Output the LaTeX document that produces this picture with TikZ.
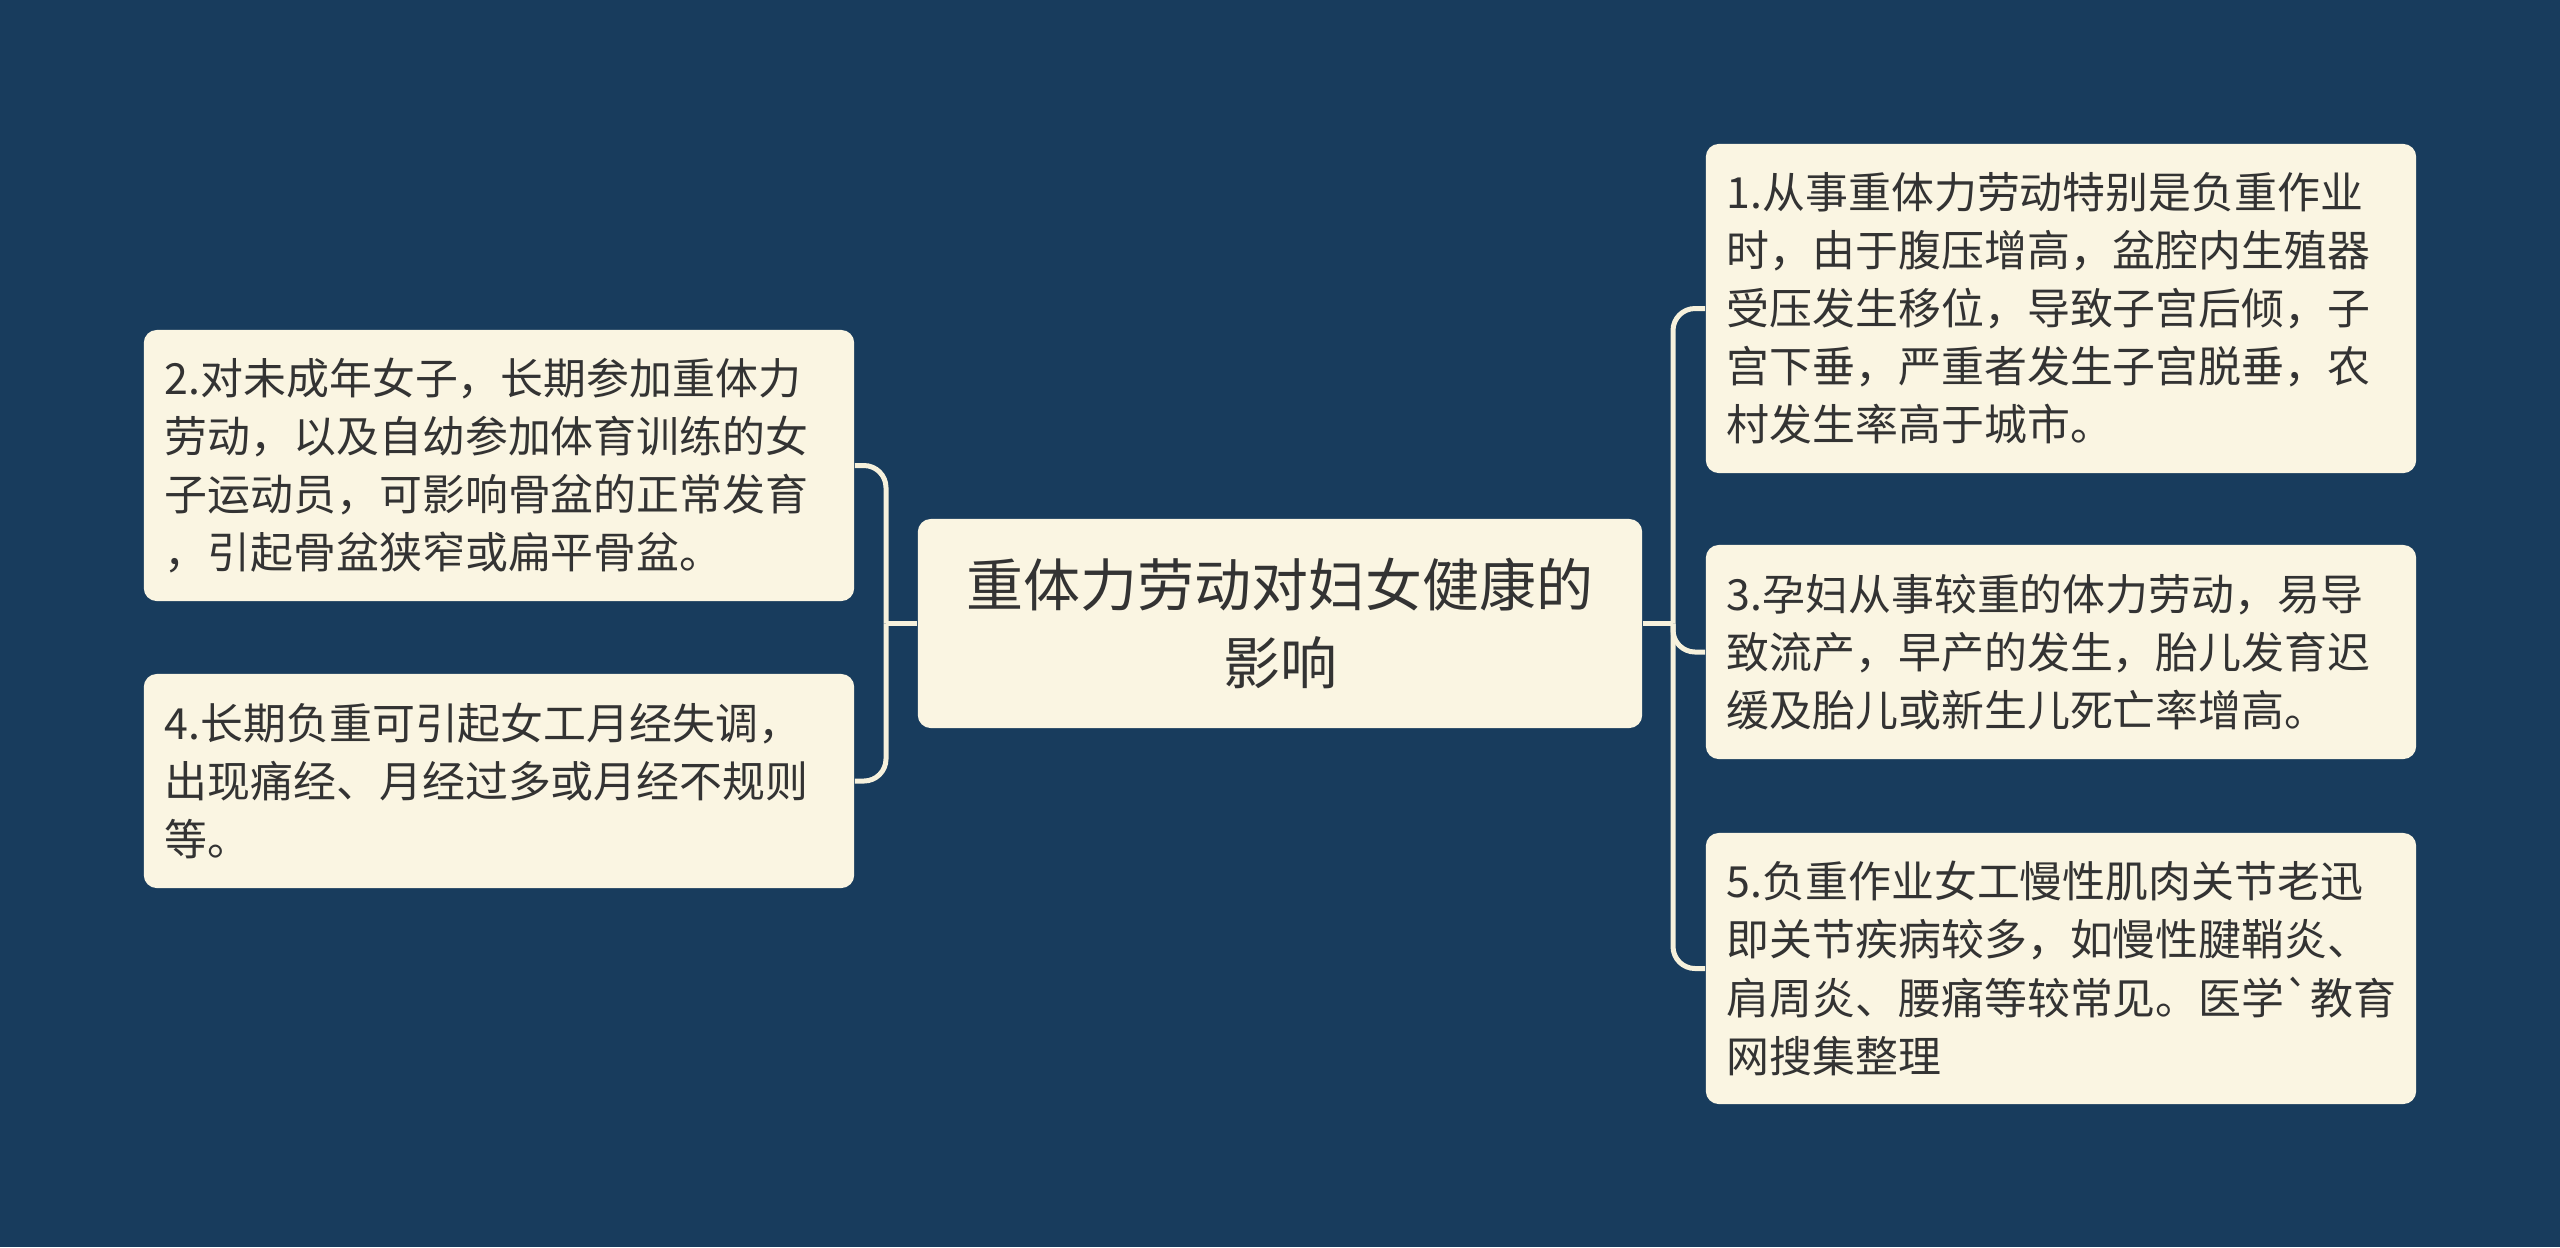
\documentclass[tikz,border=0pt]{standalone}
\usepackage{fontspec}
\newfontfamily\cjkfont{Noto Sans CJK SC}
\usepackage{tikz}
\usetikzlibrary{positioning}
\definecolor{navybg}{HTML}{183C5D}
\definecolor{cream}{HTML}{FAF5E2}
\definecolor{linecream}{HTML}{F6F1DC}
\definecolor{inkgrey}{HTML}{333333}
\tikzstyle{topic} = [rectangle, rounded corners=0.13cm, fill=cream, text=inkgrey,
    minimum width=7.24cm, minimum height=2.09cm, align=center,
    font=\cjkfont\fontsize{16.2pt}{22.3pt}\selectfont]
\tikzstyle{leaf} = [rectangle, rounded corners=0.13cm, fill=cream, text=inkgrey,
    text width=6.68cm, inner xsep=0.21cm, align=left,
    font=\cjkfont\fontsize{12.2pt}{16.5pt}\selectfont]
\tikzstyle{link} = [draw=linecream, line width=0.05cm, rounded corners=0.22cm]

\begin{document}
\begin{tikzpicture}[x=0.01cm, y=-0.01cm]
  \fill[navybg] (0,0) rectangle (2560,1247);

  \node (topic)    [topic] at (1280,623.5) {重体力劳动对妇女健康的\\影响};
  \node (strain)   [leaf, minimum height=3.29cm] at (2061,308.5)
    {1.从事重体力劳动特别是负重作业\\时，由于腹压增高，盆腔内生殖器\\受压发生移位，导致子宫后倾，子\\宫下垂，严重者发生子宫脱垂，农\\村发生率高于城市。};
  \node (pregnant) [leaf, minimum height=2.14cm] at (2061,652)
    {3.孕妇从事较重的体力劳动，易导\\致流产，早产的发生，胎儿发育迟\\缓及胎儿或新生儿死亡率增高。};
  \node (joints)   [leaf, minimum height=2.71cm] at (2061,968.5)
    {5.负重作业女工慢性肌肉关节老迅\\即关节疾病较多，如慢性腱鞘炎、\\肩周炎、腰痛等较常见。医学`教育\\网搜集整理};
  \node (minors)   [leaf, minimum height=2.71cm] at (499,465.5)
    {2.对未成年女子，长期参加重体力\\劳动，以及自幼参加体育训练的女\\子运动员，可影响骨盆的正常发育\\，引起骨盆狭窄或扁平骨盆。};
  \node (menses)   [leaf, minimum height=2.14cm] at (499,781)
    {4.长期负重可引起女工月经失调，\\出现痛经、月经过多或月经不规则\\等。};

  \coordinate (rjoint) at (1673,623.5);
  \coordinate (ljoint) at (886,623.5);

  \draw[link] (topic.east) -- (rjoint);
  \draw[link] (rjoint) |- (strain.west);
  \draw[link] (rjoint) |- (pregnant.west);
  \draw[link] (rjoint) |- (joints.west);
  \draw[link] (topic.west) -- (ljoint);
  \draw[link] (ljoint) |- (minors.east);
  \draw[link] (ljoint) |- (menses.east);
\end{tikzpicture}
\end{document}
